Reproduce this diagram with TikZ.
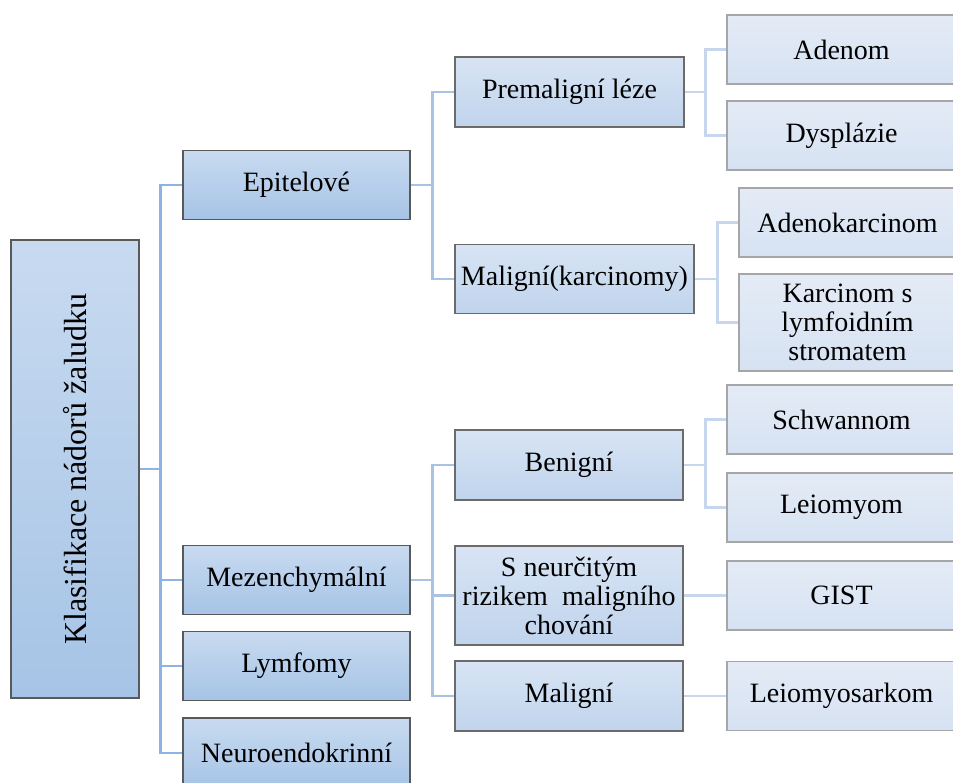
\documentclass[tikz,border=0pt]{standalone}
\usepackage{fontspec}
\setmainfont{Liberation Serif}
\usetikzlibrary{positioning, calc}

\definecolor{boxtopA}{RGB}{200,218,240}
\definecolor{boxbotA}{RGB}{166,196,230}
\definecolor{boxtopB}{RGB}{216,228,244}
\definecolor{boxbotB}{RGB}{192,212,237}
\definecolor{boxtopC}{RGB}{228,235,246}
\definecolor{boxbotC}{RGB}{214,226,242}
\definecolor{lineA}{RGB}{141,179,226}
\definecolor{lineB}{RGB}{169,194,227}
\definecolor{lineC}{RGB}{198,214,236}

\begin{document}
\begin{tikzpicture}[x=1pt, y=-1pt]

  % Define box and connector styles
  \tikzset{
    box/.style={
      rectangle, align=center, inner sep=2pt,
      font=\fontsize{28}{29}\selectfont,
      line width=1.1pt
    },
    lvlone/.style={box, draw=black!65, top color=boxtopA, bottom color=boxbotA},
    lvltwo/.style={box, draw=black!58, top color=boxtopB, bottom color=boxbotB},
    lvlthree/.style={box, draw=black!35, top color=boxtopC, bottom color=boxbotC},
    busone/.style={draw=lineA, line width=2.6pt},
    bustwo/.style={draw=lineB, line width=2.6pt},
    busthree/.style={draw=lineC, line width=2.6pt}
  }

  \useasboundingbox (0,0) rectangle (953,782);

  % Root box
  \node[lvlone, minimum width=128, minimum height=458] (root) at (75,469) {};
  \node[rotate=90, font=\fontsize{32}{34}\selectfont] (roottext) at (root.center) {Klasifikace nádorů žaludku};

  % Level 1
  \node[lvlone, minimum width=227, minimum height=69] (epit) at (296.5,185) {Epitelové};
  \node[lvlone, minimum width=227, minimum height=69] (mezen) at (296.5,580) {Mezenchymální};
  \node[lvlone, minimum width=227, minimum height=69] (lymf) at (296.5,666) {Lymfomy};
  \node[lvlone, minimum width=227, minimum height=70] (neuro) at (296.5,753) {Neuroendokrinní};

  % Level 2
  \node[lvltwo, minimum width=229, minimum height=70] (prem) at (569.5,92) {Premaligní léze};
  \node[lvltwo, minimum width=239, minimum height=69] (malk) at (574.5,279) {Maligní(karcinomy)};
  \node[lvltwo, minimum width=228, minimum height=70] (benig) at (569,465) {Benigní};
  \node[lvltwo, minimum width=228, minimum height=99] (neur) at (569,595.5) {S neurčitým\\rizikem~ maligního\\chování};
  \node[lvltwo, minimum width=228, minimum height=70] (malig) at (569,696) {Maligní};

  % Level 3
  \node[lvlthree, minimum width=229, minimum height=69] (adenom) at (841.5,49.5) {Adenom};
  \node[lvlthree, minimum width=229, minimum height=69] (dysp) at (841.5,135.5) {Dysplázie};
  \node[lvlthree, minimum width=217, minimum height=69] (adenok) at (847.5,222.5) {Adenokarcinom};
  \node[lvlthree, minimum width=217, minimum height=97] (karc) at (847.5,322.5) {Karcinom s\\lymfoidním\\stromatem};
  \node[lvlthree, minimum width=229, minimum height=69] (schwan) at (841.5,419.5) {Schwannom};
  \node[lvlthree, minimum width=229, minimum height=69] (leiom) at (841.5,507.5) {Leiomyom};
  \node[lvlthree, minimum width=229, minimum height=69] (gist) at (841.5,595.5) {GIST};
  \node[lvlthree, minimum width=229, minimum height=69] (leios) at (841.5,696) {Leiomyosarkom};

  % Connectors
  \draw[busone] (root.east) -- ++(21,0) coordinate (b1);
  \foreach \n in {epit,mezen,lymf,neuro}
    \draw[busone] (b1) |- (\n.west);

  \draw[bustwo] (epit.east) -- ++(22,0) coordinate (b2);
  \foreach \n in {prem,malk}
    \draw[bustwo] (b2) |- (\n.west);

  \draw[bustwo] (mezen.east) -- ++(22,0) coordinate (b5);
  \foreach \n in {benig,neur,malig}
    \draw[bustwo] (b5) |- (\n.west);

  \draw[busthree] (prem.east) -- ++(21,0) coordinate (b3);
  \foreach \n in {adenom,dysp}
    \draw[busthree] (b3) |- (\n.west);

  \draw[busthree] (malk.east) -- ++(23,0) coordinate (b4);
  \foreach \n in {adenok,karc}
    \draw[busthree] (b4) |- (\n.west);

  \draw[busthree] (benig.east) -- ++(22,0) coordinate (b6);
  \foreach \n in {schwan,leiom}
    \draw[busthree] (b6) |- (\n.west);

  \draw[busthree] (neur.east) -- (gist.west);
  \draw[busthree] (malig.east) -- (leios.west);

\end{tikzpicture}
\end{document}
